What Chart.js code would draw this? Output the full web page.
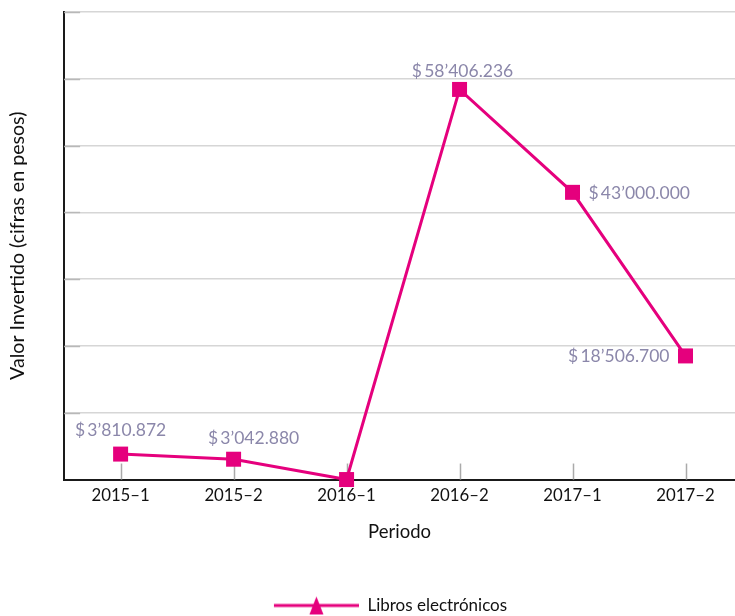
<!DOCTYPE html>
<html>
<head>
<meta charset="utf-8">
<script src="https://cdn.jsdelivr.net/npm/chart.js@4.4.0/dist/chart.umd.min.js"></script>
<style>
html,body{margin:0;padding:0;background:#fff;overflow:hidden;}
#wrap{width:735px;height:616px;}
</style>
</head>
<body>
<div id="wrap"><canvas id="c" width="735" height="616"></canvas></div>
<script>
// ---- data ----
const categories = ['2015–1', '2015–2', '2016–1', '2016–2', '2017–1', '2017–2'];
const values = [3810872, 3042880, 0, 58406236, 43000000, 18506700];
const valueLabels = ['$\u20093’810.872', '$\u20093’042.880', '', '$\u200958’406.236', '$\u200943’000.000', '$\u200918’506.700'];
const seriesName = 'Libros electrónicos';
const yTitle = 'Valor Invertido (cifras en pesos)';
const xTitle = 'Periodo';

// ---- styles ----
const MAGENTA = '#e5007d';
const LABEL_COLOR = '#8b87aa';
const FONT = 'Lato, "Open Sans", sans-serif';
// label placement per point: [side, dx, dy]
const labelPlacement = [['top',0,-24],['top',20,-21],['none',0,0],['top',3,-18],['right',16,1],['left',-16,0]];

// legend marker (line + triangle), with transparent lead-in to position it
const marker = document.createElement('canvas');
marker.width = 131; marker.height = 20;
(function(){
  const g = marker.getContext('2d');
  g.strokeStyle = MAGENTA; g.lineWidth = 3;
  g.beginPath(); g.moveTo(46,10); g.lineTo(131,10); g.stroke();
  g.fillStyle = MAGENTA;
  g.beginPath(); g.moveTo(88.5,1); g.lineTo(95.5,19); g.lineTo(81.5,19); g.closePath(); g.fill();
})();

const inwardTicks = {
  id: 'inwardTicks',
  beforeDatasetsDraw(chart){
    const {ctx, chartArea, scales} = chart;
    ctx.save();
    ctx.lineWidth = 1.5;
    ctx.strokeStyle = '#b8b8b8';
    scales.y.ticks.forEach(t => {
      if (t.value === 0) return;
      const y = Math.round(scales.y.getPixelForValue(t.value)) + 0.5;
      ctx.beginPath(); ctx.moveTo(chartArea.left, y); ctx.lineTo(chartArea.left + 16, y); ctx.stroke();
    });
    ctx.strokeStyle = '#aaaaaa';
    categories.forEach((c,i) => {
      const x = Math.round(scales.x.getPixelForValue(i)) + 0.5;
      ctx.beginPath(); ctx.moveTo(x, chartArea.bottom); ctx.lineTo(x, chartArea.bottom - 16); ctx.stroke();
    });
    ctx.restore();
  }
};

const dataLabels = {
  id: 'dataLabels',
  afterDatasetsDraw(chart){
    const {ctx} = chart;
    const meta = chart.getDatasetMeta(0);
    ctx.save();
    ctx.font = '17.5px ' + FONT;
    ctx.fillStyle = LABEL_COLOR;
    ctx.textBaseline = 'middle';
    meta.data.forEach((pt, i) => {
      const txt = valueLabels[i];
      const p = labelPlacement[i];
      if (!txt || p[0] === 'none') return;
      ctx.textAlign = p[0] === 'top' ? 'center' : (p[0] === 'right' ? 'left' : 'right');
      ctx.fillText(txt, pt.x + p[1], pt.y + p[2]);
    });
    ctx.restore();
  }
};

new Chart(document.getElementById('c'), {
  type: 'line',
  data: {
    datasets: [{
      label: seriesName,
      data: values.map((v, i) => ({ x: i, y: v })),
      borderColor: MAGENTA,
      backgroundColor: MAGENTA,
      borderWidth: 3,
      pointStyle: 'rect',
      pointRadius: 10.6,
      pointBorderWidth: 0,
      tension: 0,
      clip: false
    }]
  },
  options: {
    responsive: false,
    animation: false,
    layout: { autoPadding: false, padding: { left: 0, top: 12, right: 0, bottom: -8 } },
    plugins: {
      tooltip: { enabled: false },
      legend: {
        position: 'bottom',
        labels: {
          usePointStyle: true,
          pointStyleWidth: 131,
          color: '#111',
          font: { family: FONT, size: 17 },
          padding: 3,
          generateLabels(chart){
            return [{ text: seriesName, pointStyle: marker, fillStyle: MAGENTA, strokeStyle: MAGENTA, lineWidth: 0, datasetIndex: 0, fontColor: '#111' }];
          }
        }
      }
    },
    scales: {
      x: {
        type: 'linear',
        min: -0.5,
        max: 5.438,
        afterBuildTicks(scale){ scale.ticks = categories.map((c, i) => ({ value: i })); },
        afterFit(scale){ scale.paddingLeft = 0; scale.paddingRight = 0; },
        grid: { display: false, drawTicks: false },
        border: { display: true, color: '#1a1a1a', width: 2 },
        ticks: { color: '#111', font: { family: FONT, size: 16.8 }, padding: 6, maxRotation: 0, autoSkip: false,
                 callback: (v) => categories[v] },
        title: { display: true, text: xTitle, color: '#111', font: { family: FONT, size: 18.5 }, padding: { top: 9.4, bottom: 50.7 } }
      },
      y: {
        min: 0, max: 70000000,
        ticks: { display: false, stepSize: 10000000 },
        grid: { color: '#d6d6d6', lineWidth: 1.5, drawTicks: false },
        border: { display: true, color: '#1a1a1a', width: 2 },
        title: { display: true, text: yTitle, color: '#111', font: { family: FONT, size: 19.6 }, padding: { top: 6.3, bottom: 34.3 } }
      }
    }
  },
  plugins: [inwardTicks, dataLabels]
});
</script>
</body>
</html>
